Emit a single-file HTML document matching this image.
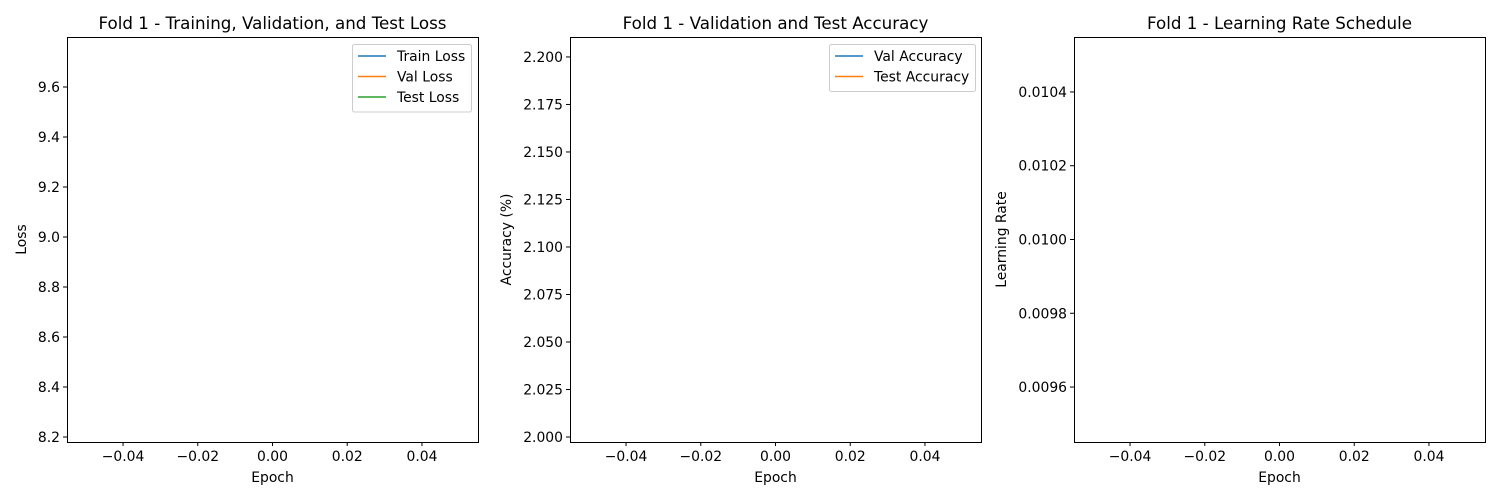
<!DOCTYPE html>
<html><head><meta charset="utf-8"><style>
html,body{margin:0;padding:0;background:#fff;}
svg{display:block;font-family:"DejaVu Sans","Liberation Sans",sans-serif;}
</style></head><body>
<svg id="chart" width="1500" height="500" viewBox="0 0 1500 500"></svg>
<script>
const epochs = [0];
const trainLoss = [9.0];
const valLoss = [9.0];
const testLoss = [9.0];
const valAcc = [2.1];
const testAcc = [2.1];
const lrVals = [0.01];
const xTicks = [-0.04, -0.02, 0.00, 0.02, 0.04];
const lossTicks = [8.2, 8.4, 8.6, 8.8, 9.0, 9.2, 9.4, 9.6];
const accTicks = [2.000, 2.025, 2.050, 2.075, 2.100, 2.125, 2.150, 2.175, 2.200];
const lrTicks = [0.0096, 0.0098, 0.0100, 0.0102, 0.0104];

const NS = "http://www.w3.org/2000/svg";
const svg = document.getElementById('chart');
function el(tag, attrs, parent, text){
  const e = document.createElementNS(NS, tag);
  for (const k in attrs) e.setAttribute(k, attrs[k]);
  if (text !== undefined) e.textContent = text;
  (parent || svg).appendChild(e);
  return e;
}
const TOP = 37, BOT = 442, FS = 13.9;
const panels = [
  {key:'loss', left:67, title:'Fold 1 - Training, Validation, and Test Loss', ylabel:'Loss', ymin:8.18, ymax:9.8, ticks:lossTicks, dec:1,
   series:[{n:'Train Loss',c:'#1f77b4',d:trainLoss},{n:'Val Loss',c:'#ff7f0e',d:valLoss},{n:'Test Loss',c:'#2ca02c',d:testLoss}], legend:{x:352,w:119}, ylx:26},
  {key:'accuracy', left:570, title:'Fold 1 - Validation and Test Accuracy', ylabel:'Accuracy (%)', ymin:1.99737, ymax:2.2105, ticks:accTicks, dec:3,
   series:[{n:'Val Accuracy',c:'#1f77b4',d:valAcc},{n:'Test Accuracy',c:'#ff7f0e',d:testAcc}], legend:{x:829,w:146}, ylx:511},
  {key:'lr', left:1074, title:'Fold 1 - Learning Rate Schedule', ylabel:'Learning Rate', ymin:0.009451, ymax:0.010549, ticks:lrTicks, dec:4,
   series:[{n:'LR',c:'#1f77b4',d:lrVals}], legend:null, ylx:1006}
];
panels.forEach(p=>{
  const W = 411;
  const xs = v => p.left + (v + 0.055) / 0.11 * W;
  const ys = v => BOT - (v - p.ymin) / (p.ymax - p.ymin) * (BOT - TOP);
  const g = el('g', {});
  
  
  p.series.forEach(s=>{
    const d = epochs.map((e,i)=>(i?'L':'M')+xs(e)+','+ys(s.d[i])).join(' ');
    const path = el('path', {d:d, fill:'none', stroke:s.c, 'stroke-width':1.5}, g);
    
    
  });
  const frame = el('rect', {x:p.left+0.5, y:TOP+0.5, width:W, height:BOT-TOP, fill:'none', stroke:'#000', 'stroke-width':1}, g);
  
  
  xTicks.forEach(t=>{
    const x = xs(t);
    el('line', {x1:x, x2:x, y1:BOT, y2:BOT+4, stroke:'#000'}, g);
    const tx = el('text', {x:x, y:BOT+19, 'font-size':FS, 'text-anchor':'middle'}, g, (t<0?'\u22120':'0')+Math.abs(t).toFixed(2).slice(1));
    
    
  });
  p.ticks.forEach(t=>{
    const y = ys(t);
    el('line', {x1:p.left-4, x2:p.left, y1:y, y2:y, stroke:'#000'}, g);
    const tx = el('text', {x:p.left-7, y:y+5, 'font-size':FS, 'text-anchor':'end'}, g, t.toFixed(p.dec));
    
    
  });
  const ti = el('text', {x:p.left+W/2, y:TOP-8, 'font-size':16.7, 'text-anchor':'middle'}, g, p.title);
  
  
  const xl = el('text', {x:p.left+W/2, y:BOT+40, 'font-size':FS, 'text-anchor':'middle'}, g, 'Epoch');
  
  
  const cy = (TOP+BOT)/2;
  const yl = el('text', {x:p.ylx, y:cy, 'font-size':FS, 'text-anchor':'middle', transform:'rotate(-90 '+p.ylx+' '+cy+')'}, g, p.ylabel);
  
  
  if (p.legend){
    const lg = el('g', {}, g);
    
    
    const h = 6 + p.series.length*20.5;
    el('rect', {x:p.legend.x+0.5, y:44.5, width:p.legend.w, height:h, rx:2, fill:'#fff', stroke:'#ccc'}, lg);
    p.series.forEach((s,i)=>{
      const y = 56 + i*20.5;
      el('line', {x1:p.legend.x+6, x2:p.legend.x+34, y1:y, y2:y, stroke:s.c, 'stroke-width':1.5}, lg);
      const t = el('text', {x:p.legend.x+45, y:y+5, 'font-size':FS}, lg, s.n);
      
      
    });
  }
});
</script>
</body></html>
